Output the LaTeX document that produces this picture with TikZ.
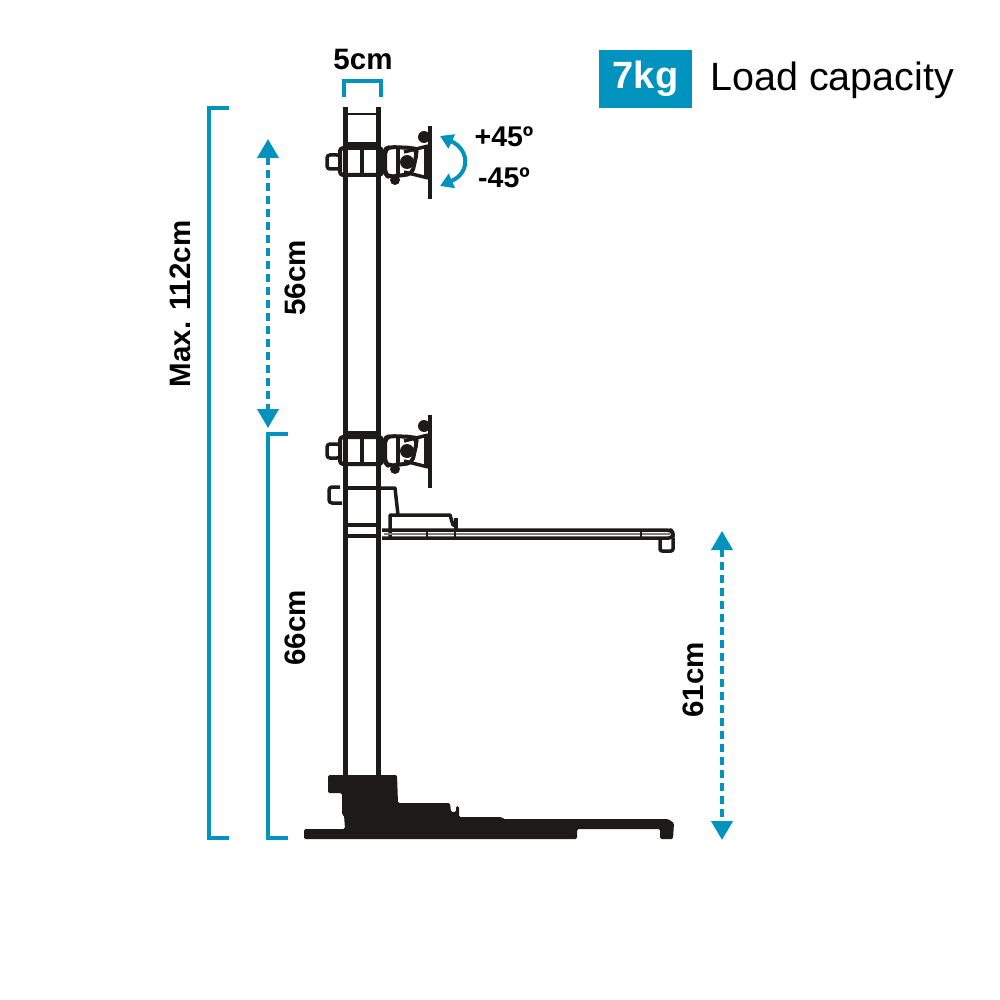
\documentclass[tikz,border=0pt]{standalone}
\usepackage{fontspec}
\setmainfont{Liberation Sans}
\usetikzlibrary{arrows.meta}
\definecolor{dimblue}{HTML}{0093BD}
\definecolor{standblack}{HTML}{1D1B19}
\tikzset{
  part/.style={draw=standblack,line width=3.5pt,line join=round},
  thin part/.style={draw=standblack,line width=2pt},
  solid part/.style={fill=standblack,draw=none},
  dim/.style={draw=dimblue,line width=3.5pt},
  dim arrow/.style={dim,line width=4pt,dash pattern=on 8pt off 5pt,{Triangle[length=19pt,width=21pt]}-{Triangle[length=19pt,width=21pt]}},
  dim label/.style={font=\bfseries\fontsize{29.5}{30}\selectfont,text=black,inner sep=0pt},
}
\begin{document}
\begin{tikzpicture}[x=1pt,y=-1pt]
   \useasboundingbox[fill=white] (0,0) rectangle (1000,1000);
   % pole
   \draw[part,line width=5pt] (345,107) -- (345,775);
   \draw[part,line width=5pt] (378,107) -- (378,775);
   \draw[thin part] (345,114) -- (378,114);
   % monitor mounts
   \foreach \dy in {0,289} {
     \begin{scope}[yshift=-\dy pt]
       \draw[part,line width=4pt] (345,144) -- (378,144);
       \draw[part,fill=white,rounded corners=3pt] (327,155) rectangle (340,169);
       \draw[part,line width=4pt,rounded corners=3pt] (340,148) rectangle (382,175);
       \draw[part] (362,148) -- (362,175);
       \draw[part,line width=5pt] (384,152) -- (384,172);
       \draw[part,line width=4pt,rounded corners=5pt] (385,149) -- (390,147) -- (414,148) -- (417,152) -- (412,174) -- (388,177) -- (385,173) -- cycle;
       \draw[part,line width=4pt] (398,148) -- (398,176);
       \draw[part] (404,152) -- (428,146);
       \draw[part] (404,172) -- (428,178);
       \draw[part,line width=7pt] (427,146) -- (427,178);
       \draw[part] (430,126) -- (430,199);
       \fill[standblack] (407,162) circle (7pt);
       \fill[standblack] (424,137) circle (6pt);
       \fill[standblack] (395,180) circle (5pt);
     \end{scope}
   }
   % shelf and its carriage
   \draw[part,rounded corners=3pt] (340,487) -- (329,487) -- (329,503) -- (342,503);
   \draw[part] (346,488) -- (346,525) -- (376,525);
   \draw[part] (346,488) -- (378,488);
   \draw[part] (378,488) -- (395,488) -- (398,515);
   \draw[part] (390,538) -- (390,515) -- (450,515) -- (453,525) -- (457,525);
   \draw[part] (456,518) -- (456,531);
   \draw[part] (347,536) -- (377,536);
   \draw[part,rounded corners=4pt] (382,530) -- (671,530) -- (673,533) -- (673,538) -- (382,538);
   \draw[draw=gray,line width=1.5pt] (384,534) -- (670,534);
   \draw[part,rounded corners=2pt] (660,538) -- (660,551) -- (673,551) -- (673,538);
   \draw[thin part] (427,530) -- (427,538);
   \draw[thin part] (455,530) -- (455,538);
   \draw[thin part] (641,530) -- (641,538);
   % base
   \fill[solid part,rounded corners=1.5pt] (328,775) -- (397,775) -- (398,803) -- (450,803) -- (451,812)
     -- (456,812) -- (456,806) -- (459,806) -- (459,817) -- (502,817) -- (503,819) -- (668,819)
     -- (674,823) -- (673,839) -- (660,839) -- (660,829) -- (577,829) -- (577,839) -- (304,839)
     -- (304,829) -- (345,829) -- (344,815) -- (342,815) -- (342,793) -- (328,793) -- cycle;
   % dimensions
   \coordinate (maxtop) at (209,108);
   \coordinate (maxbot) at (209,838);
   \coordinate (lowtop) at (268,434);
   \coordinate (lowbot) at (268,838);
   \draw[dim] (229,108) -- (maxtop) -- (maxbot) -- (229,838);
   \draw[dim] (288,434) -- (lowtop) -- (lowbot) -- (288,838);
   \coordinate (widthl) at (344,97);
   \coordinate (widthr) at (381,97);
   \draw[dim] (widthl) -- (344,81) -- (381,81) -- (widthr);
   \coordinate (slidetop) at (268,139);
   \coordinate (slidebot) at (268,428);
   \draw[dim arrow] (slidetop) -- (slidebot);
   \coordinate (shelftop) at (722,531);
   \coordinate (shelfbot) at (722,840);
   \draw[dim arrow] (shelftop) -- (shelfbot);
   \coordinate (tiltup) at (440,136);
   \coordinate (tiltdown) at (440,186);
   \draw[dim,line width=4pt,{Triangle[length=13pt,width=15pt]}-{Triangle[length=13pt,width=15pt]}] (tiltup) .. controls (470,150) and (470,173) .. (tiltdown);
   % labels
   \node[dim label,rotate=90] (maxlabel) at (180,304) {Max. 112cm};
   \node[dim label,rotate=90] (upperlabel) at (295,278) {56cm};
   \node[dim label,rotate=90] (lowerlabel) at (295,628) {66cm};
   \node[dim label,rotate=90] (shelflabel) at (693,680) {61cm};
   \node[dim label] (widthlabel) at (363,59) {5cm};
   \node[dim label,font=\bfseries\fontsize{28.5}{29}\selectfont] (pluslabel) at (504,137) {+45º};
   \node[dim label,font=\bfseries\fontsize{28.5}{29}\selectfont] (minuslabel) at (504,178) {-45º};
   \node[fill=dimblue,text=white,font=\bfseries\fontsize{38}{38}\selectfont,minimum width=93pt,minimum height=58pt,inner sep=0pt] (weight) at (645.5,79) {7kg};
   \node[anchor=west,inner sep=0pt,font=\fontsize{39.5}{40}\selectfont] (capacity) at (710,80) {Load capacity};
\end{tikzpicture}
\end{document}
